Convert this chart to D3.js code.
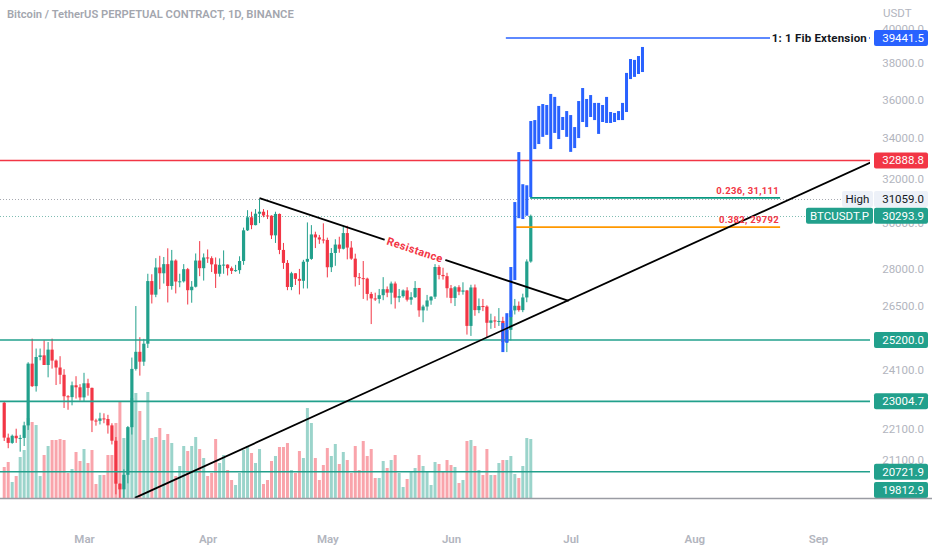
<!DOCTYPE html>
<html>
<head>
<meta charset="utf-8">
<script src="https://cdn.jsdelivr.net/npm/d3@7"></script>
<style>
  body { margin: 0; background: #fff; }
  svg { display: block; font-family: Roboto, "Noto Sans", sans-serif; }
</style>
</head>
<body>
<div id="chart"></div>
<script>
// ---- data (BTCUSDT.P daily, 9 Feb 2023 .. 21 Jun 2023) ----
var firstDay = new Date(2023, 1, 9);

var opens = [
  // Feb
  22960,21800,21630,21860,21780,21790,22200,24330,23530,24570,24630,24280,24840,24440,24190,23930,23180,23150,23560,23490,
  // Mar
  23140,23630,23470,22360,22350,22430,22410,22200,21700,20360,20190,20630,22140,24140,24760,24400,25060,27500,26950,28060,
  27820,28200,27300,28350,27480,27490,27990,27130,27270,28350,28030,
  // Apr
  28480,28450,28190,27800,28170,28180,28030,27920,27950,28330,29650,30230,29880,30390,30480,30310,30300,29430,30380,28800,
  28250,27260,27820,27590,27510,28300,28420,29470,29340,29250,
  // May
  29230,28070,28670,29030,28850,29530,28900,28430,27660,27620,27600,26980,26800,26780,26930,27170,27030,27400,26830,26890,
  27120,26750,26850,27220,26330,26480,26720,26870,28080,27750,27700,
  // Jun
  27210,26820,27250,27070,27120,25730,27240,26340,26500,26480,25850,25940,25900,25920,25120,25580,26330,26510,26340,26840,
  28310
];
var highs = [
  23000,21930,21900,22090,21890,22320,24380,25250,24880,24880,25190,25120,25250,24480,24600,24130,23220,23690,23880,23600,
  24000,23790,23480,22420,22620,22600,22550,22270,21820,20370,20800,22180,24550,26500,25300,25240,27800,27780,28450,28550,
  28500,28870,28800,28400,27800,28200,28040,27500,28650,29180,28650,
  28820,28530,28480,28440,28780,28190,28100,28170,28530,29770,30550,30480,30600,31060,30600,30550,30320,30480,30400,29100,
  28370,27880,27820,28000,28380,30000,29880,29590,29450,29960,
  29330,28880,29260,29370,29850,29850,29180,28640,27830,28330,27640,27060,27030,27180,27660,27280,27480,27480,27180,27160,
  27250,27050,27500,27220,26550,26940,26890,28200,28450,28050,27840,
  27340,27300,27330,27450,27140,27350,27360,26800,26780,26530,26200,26100,26420,26080,25740,26480,26780,26680,26990,28400,
  30350
];
var lows = [
  21690,21460,21600,21630,21350,21530,22050,23500,23340,24450,24280,23840,24150,23570,23600,22780,22720,22870,23100,23030,
  23020,23200,21980,22190,22230,22270,21930,21580,20040,19550,19860,20370,21900,24080,23900,24250,24900,26600,26850,27170,
  27400,26640,27150,27000,27250,27440,26560,26630,27240,27700,27520,
  28250,27870,27220,27680,27800,27730,27790,27880,27800,28170,29620,29700,29870,29970,30230,30150,29270,29100,28620,28000,
  27130,27130,27340,26960,27200,27200,28380,28880,29060,29080,
  27650,27870,28130,28680,28820,28400,28380,27280,27340,26780,26720,25800,26700,26600,26730,26850,26570,26400,26650,26830,
  26680,26550,26820,26080,25870,26320,26550,26780,27570,27560,26830,
  26610,26500,26930,26950,25400,25350,26120,26220,26300,25300,25620,25650,25730,24820,24750,25180,26170,26280,26260,26650,
  28260
];
var closes = [
  21800,21630,21860,21780,21790,22200,24330,23530,24570,24630,24280,24840,24440,24190,23930,23180,23150,23560,23490,23140,
  23630,23470,22360,22350,22430,22410,22200,21700,20360,20190,20630,22140,24140,24760,24400,25060,27500,26950,28060,27820,
  28200,27300,28350,27480,27490,27990,27130,27270,28350,28030,28480,
  28450,28190,27800,28170,28180,28030,27920,27950,28330,29650,30230,29880,30390,30480,30310,30300,29430,30380,28800,28250,
  27260,27820,27590,27510,28300,28420,29470,29340,29250,29230,
  28070,28670,29030,28850,29530,28900,28430,27660,27620,27600,26980,26800,26780,26930,27170,27030,27400,26830,26890,27120,
  26750,26850,27220,26330,26480,26720,26870,28080,27750,27700,27210,
  26820,27250,27070,27120,25730,27240,26340,26500,26480,25850,25940,25900,25920,25120,25580,26330,26510,26340,26840,28310,
  30293.9
];
// volume, thousand BTC
var volumes = [
  31,36,16,22,41,48,80,76,73,22,43,52,58,58,59,58,25,29,46,37,
  49,35,48,14,23,23,43,43,75,96,60,71,100,105,87,58,106,60,61,70,
  58,64,55,22,32,52,47,52,61,49,40,
  22,25,59,35,43,28,18,13,25,48,52,45,35,49,14,18,37,42,51,51,
  55,28,25,47,40,90,75,40,18,33,
  50,42,54,34,46,38,25,52,28,57,42,49,20,20,37,30,38,43,25,11,
  19,26,30,43,32,27,13,36,34,27,38,
  33,31,15,18,57,58,52,28,23,49,23,23,35,38,38,42,24,20,32,60,
  59
];

// projected bars pattern (blue), from 14 Jun 2023
var projStart = new Date(2023, 5, 14);
var projHighs = [25840,26220,28080,30920,33300,31750,31700,34870,34920,35660,35760,35710,36300,36140,35660,35080,35390,35180,
  34560,35920,36620,36030,36240,35820,35820,35710,36140,35340,35290,35390,35820,37450,38230,38180,38400,38920];
var projLows = [24750,25090,26070,27540,30190,30150,30300,31150,33450,33700,34060,34160,33450,34260,33950,34410,34060,33310,
  33500,34000,34820,34560,35080,34920,34210,34820,34770,34770,34820,34920,34920,35340,37110,37230,37390,37500];

// horizontal levels
var levelPrices = [32888.8, 25200.0, 23004.7, 20721.9, 19812.9];
var extPrice = 39441.5;
var extName = "1: 1 Fib Extension";
var extStart = new Date(2023, 5, 14, 18);

var fibNames = ["0.236, 31,111", "0.382, 29792"];
var fibPrices = [31111, 29792];
var fibStarts = [new Date(2023, 5, 20, 20), new Date(2023, 5, 17, 8)];
var fibEnd = new Date(2023, 7, 22, 12);

var highPrice = 31059.0;
var lastPrice = 30293.9;

// trend lines [date, price]
var resistance = [[new Date(2023, 3, 14), 31100], [new Date(2023, 5, 30, 12), 26700]];
var support = [[new Date(2023, 2, 13, 18), 19934], [new Date(2023, 8, 14, 12), 32820]];

var priceTicks = [40000, 38000, 36000, 34000, 32000, 30000, 28000, 26500, 24100, 22100, 21100, 20300];

// ---- chart ----
var width = 932, height = 550;
var plotW = 870, plotH = 498;

var teal = "#22a08c", red = "#f23645", blue = "#2962ff", orange = "#ff9800";

var svg = d3.select("#chart").append("svg")
    .attr("width", width)
    .attr("height", height);

var x = d3.scaleTime()
    .domain([new Date(2023, 2, 1), new Date(2023, 8, 1)])
    .range([84, 818]);

var y = d3.scaleLog()
    .domain([19932, 41729])
    .range([plotH, 0]);

var vy = d3.scaleLinear()
    .domain([0, 110])
    .range([plotH, plotH - 110]);

var candles = opens.map(function(o, i) {
    return {date: d3.timeDay.offset(firstDay, i), o: o, h: highs[i], l: lows[i], c: closes[i], v: volumes[i]};
});
var proj = projHighs.map(function(h, j) {
    return {date: d3.timeDay.offset(projStart, j), h: h, l: projLows[j]};
});

svg.append("clipPath").attr("id", "plot-clip")
    .append("rect").attr("width", plotW).attr("height", plotH);

var plot = svg.append("g").attr("clip-path", "url(#plot-clip)");

// dotted price lines
plot.append("line")
    .attr("x1", 0).attr("x2", plotW)
    .attr("y1", Math.round(y(highPrice)) + 0.5).attr("y2", Math.round(y(highPrice)) + 0.5)
    .attr("stroke", "#a6a9b0").attr("stroke-dasharray", "1,2");
plot.append("line")
    .attr("x1", 0).attr("x2", plotW)
    .attr("y1", Math.round(y(lastPrice)) + 0.5).attr("y2", Math.round(y(lastPrice)) + 0.5)
    .attr("stroke", "#7fbcb2").attr("stroke-dasharray", "1,2");

// volume
plot.selectAll(".vol").data(candles).enter().append("rect")
    .attr("x", function(d) { return x(d.date) - 1.5; })
    .attr("y", function(d) { return vy(d.v); })
    .attr("width", 3)
    .attr("height", function(d) { return plotH - vy(d.v); })
    .attr("fill", function(d) { return d.c >= d.o ? teal : red; })
    .attr("opacity", 0.45);

// candles
var cg = plot.selectAll(".candle").data(candles).enter().append("g");
cg.append("line")
    .attr("x1", function(d) { return x(d.date); })
    .attr("x2", function(d) { return x(d.date); })
    .attr("y1", function(d) { return y(d.h); })
    .attr("y2", function(d) { return y(d.l); })
    .attr("stroke", function(d) { return d.c >= d.o ? teal : red; })
    .attr("stroke-width", 1);
cg.append("rect")
    .attr("x", function(d) { return x(d.date) - 1.6; })
    .attr("y", function(d) { return y(Math.max(d.o, d.c)); })
    .attr("width", 3.2)
    .attr("height", function(d) { return Math.max(1, Math.abs(y(d.o) - y(d.c))); })
    .attr("fill", function(d) { return d.c >= d.o ? teal : red; });

// horizontal levels
levelPrices.forEach(function(p, i) {
    plot.append("line")
        .attr("x1", 0).attr("x2", plotW)
        .attr("y1", y(p)).attr("y2", y(p))
        .attr("stroke", i === 0 ? red : teal)
        .attr("stroke-width", 1.6);
});

// fib retracement levels
fibPrices.forEach(function(p, i) {
    plot.append("line")
        .attr("x1", x(fibStarts[i])).attr("x2", x(fibEnd))
        .attr("y1", y(p)).attr("y2", y(p))
        .attr("stroke", i === 0 ? "#089981" : orange)
        .attr("stroke-width", 1.6);
});

// projected bars pattern
plot.selectAll(".proj").data(proj).enter().append("rect")
    .attr("x", function(d) { return x(d.date) - 1.5; })
    .attr("y", function(d) { return y(d.h); })
    .attr("width", 3)
    .attr("height", function(d) { return y(d.l) - y(d.h); })
    .attr("fill", blue);

// fib extension line
plot.append("line")
    .attr("x1", x(extStart)).attr("x2", plotW)
    .attr("y1", y(extPrice)).attr("y2", y(extPrice))
    .attr("stroke", blue).attr("stroke-width", 1.6);

// trend lines
var line = d3.line()
    .x(function(d) { return x(d[0]); })
    .y(function(d) { return y(d[1]); });

plot.append("path").attr("d", line(resistance))
    .attr("stroke", "#000").attr("stroke-width", 1.8).attr("fill", "none");
plot.append("path").attr("d", line(support))
    .attr("stroke", "#000").attr("stroke-width", 1.8).attr("fill", "none");

// "Resistance" label along the line
var r0 = [x(resistance[0][0]), y(resistance[0][1])];
var r1 = [x(resistance[1][0]), y(resistance[1][1])];
var ang = Math.atan2(r1[1] - r0[1], r1[0] - r0[0]) * 180 / Math.PI;
var rx = 415, ry = r0[1] + (rx - r0[0]) * (r1[1] - r0[1]) / (r1[0] - r0[0]);
var rl = plot.append("g").attr("transform", "translate(" + rx + "," + ry + ") rotate(" + ang + ")");
rl.append("rect").attr("x", -32).attr("y", -7).attr("width", 64).attr("height", 14).attr("fill", "#fff");
rl.append("text")
    .attr("text-anchor", "middle").attr("dy", "0.35em")
    .attr("font-size", 11).attr("font-weight", 700)
    .attr("letter-spacing", 0.4)
    .attr("fill", red)
    .text("Resistance");

// fib level texts
fibNames.forEach(function(t, i) {
    plot.append("text")
        .attr("x", x(fibEnd) - 1)
        .attr("y", y(fibPrices[i]) - 4)
        .attr("text-anchor", "end")
        .attr("font-size", 9.5).attr("font-weight", 700)
        .attr("letter-spacing", 0.3)
        .attr("fill", red)
        .text(t);
});

// fib extension text
plot.append("rect")
    .attr("x", 770).attr("y", y(extPrice) - 8).attr("width", 99).attr("height", 16)
    .attr("fill", "#fff");
plot.append("text")
    .attr("x", 867).attr("y", y(extPrice)).attr("dy", "0.35em")
    .attr("text-anchor", "end")
    .attr("font-size", 11.5).attr("font-weight", 700)
    .attr("letter-spacing", 0.2)
    .attr("fill", "#131722")
    .text(extName);

// ---- title ----
svg.append("text")
    .attr("x", 7).attr("y", 18)
    .attr("font-size", 11.2).attr("font-weight", 600)
    .attr("fill", "#a3a6ae")
    .text("Bitcoin / TetherUS PERPETUAL CONTRACT, 1D, BINANCE");

// ---- price axis ----
var axisG = svg.append("g").attr("transform", "translate(" + plotW + ",0)");
axisG.call(d3.axisRight(y).tickValues(priceTicks).tickSize(0).tickFormat(d3.format(".1f")));
axisG.select(".domain").remove();
axisG.selectAll("text")
    .attr("x", 54).attr("text-anchor", "end")
    .attr("font-size", 11.5)
    .attr("font-family", "Roboto, 'Noto Sans', sans-serif")
    .attr("fill", "#b2b5be");

svg.append("text")
    .attr("x", 883).attr("y", 17)
    .attr("font-size", 11.5)
    .attr("fill", "#b2b5be")
    .text("USDT");

// price badges
function badge(yc, txt, bg, fg, x0, w, anchor) {
    svg.append("rect")
        .attr("x", x0).attr("y", yc - 8)
        .attr("width", w).attr("height", 16)
        .attr("rx", 2)
        .attr("fill", bg);
    svg.append("text")
        .attr("x", anchor === "middle" ? x0 + w / 2 : x0 + w - 4)
        .attr("y", yc).attr("dy", "0.35em")
        .attr("text-anchor", anchor || "end")
        .attr("font-size", 11.5)
        .attr("fill", fg)
        .text(txt);
}

var fmt = d3.format(".1f");
badge(y(extPrice), fmt(extPrice), blue, "#fff", 874, 54);
levelPrices.forEach(function(p, i) {
    badge(Math.min(y(p), 490), fmt(p), i === 0 ? red : teal, "#fff", 874, 54);
});
badge(y(highPrice), "High", "#edf1f8", "#131722", 842, 31, "middle");
badge(y(highPrice), fmt(highPrice), "#edf1f8", "#131722", 874, 54);
badge(y(lastPrice), "BTCUSDT.P", teal, "#fff", 806, 67, "middle");
badge(y(lastPrice), fmt(lastPrice), teal, "#fff", 874, 54);

// ---- time axis ----
svg.append("line")
    .attr("x1", 0).attr("x2", width)
    .attr("y1", plotH + 0.5).attr("y2", plotH + 0.5)
    .attr("stroke", "#9a9ca3").attr("stroke-width", 1.5);

var xAxisScale = x.copy().domain([x.invert(0), x.invert(plotW)]).range([0, plotW]);
var timeG = svg.append("g").attr("transform", "translate(0," + plotH + ")");
timeG.call(d3.axisBottom(xAxisScale).ticks(d3.timeMonth).tickSize(0).tickFormat(d3.timeFormat("%b")));
timeG.select(".domain").remove();
timeG.selectAll("text")
    .attr("y", 41).attr("dy", "0.35em")
    .attr("font-size", 11.5).attr("font-weight", 600)
    .attr("font-family", "Roboto, 'Noto Sans', sans-serif")
    .attr("fill", "#b2b5be");
</script>
</body>
</html>
